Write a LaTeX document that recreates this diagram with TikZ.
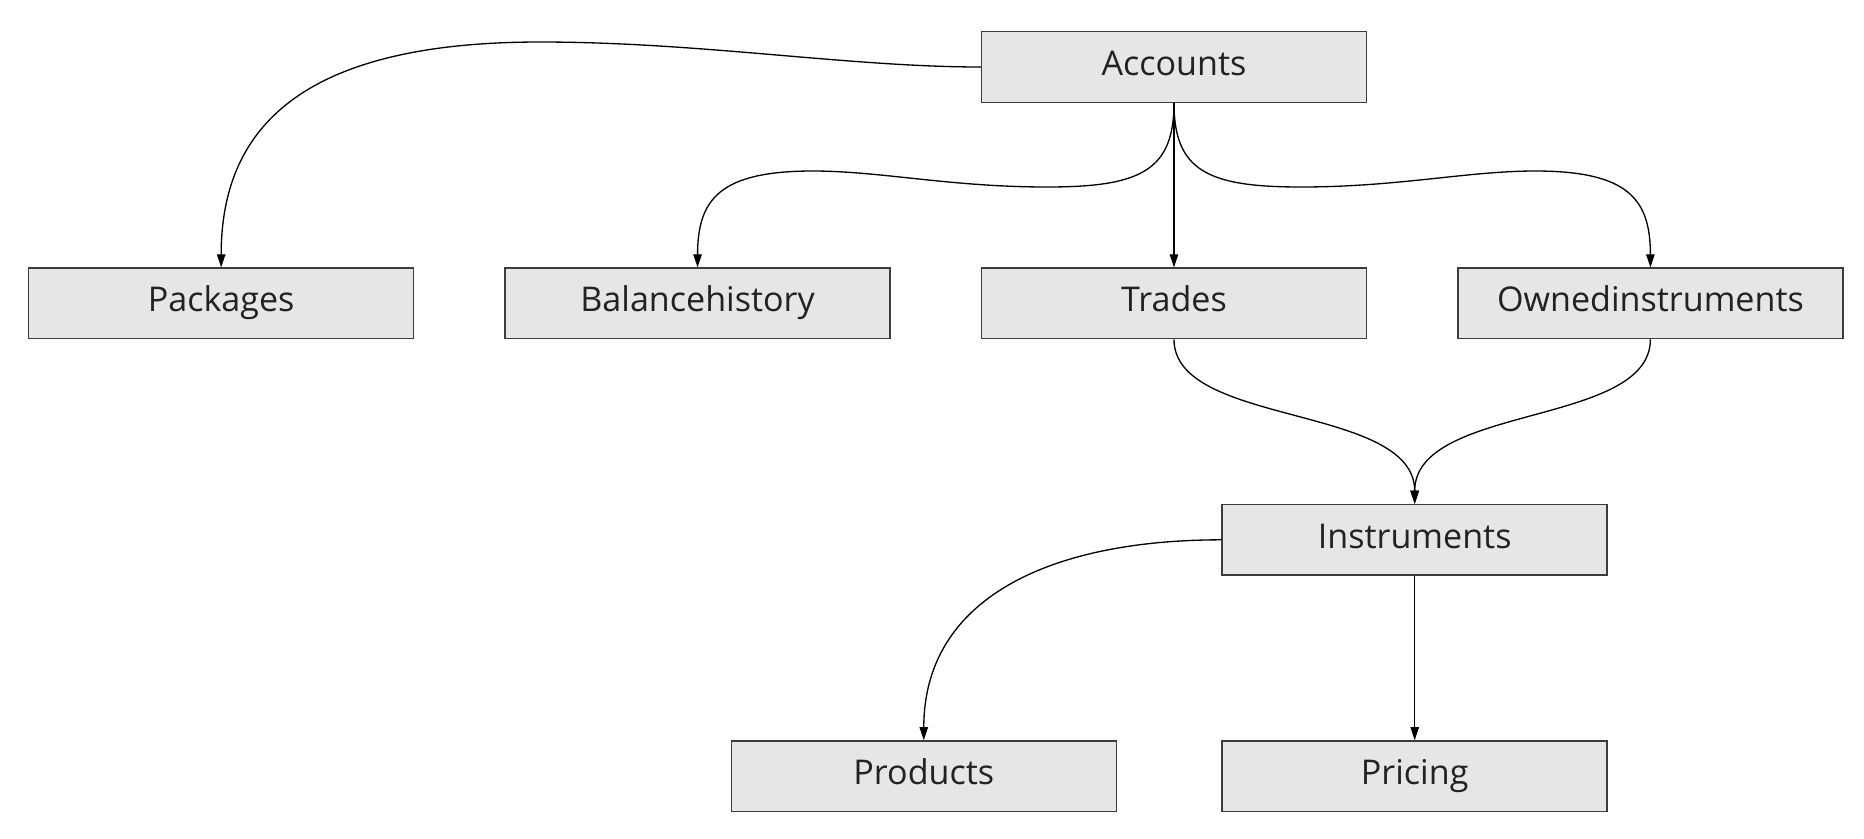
\documentclass[tikz,border=0pt]{standalone}
\usepackage{fontspec}
\setmainfont{Open Sans}
\usepackage{tikz}
\usetikzlibrary{positioning, arrows.meta, calc}
\definecolor{boxfill}{HTML}{E6E6E6}
\definecolor{boxline}{HTML}{3C3C3C}
\definecolor{boxtext}{HTML}{222222}
\tikzset{
    tbl/.style={draw=boxline, fill=boxfill, line width=0.8pt, text=boxtext,
        minimum width=7.7cm, minimum height=1.41cm, inner sep=0pt,
        text height=13.6pt, text depth=4.2pt,
        font=\fontsize{19.4}{23}\selectfont},
    link/.style={-{Triangle[length=7.5pt, width=4.8pt]}, line width=0.75pt},
}

\begin{document}
\begin{tikzpicture}
    \tikzset{
      node distance=3.29cm and 1.80cm
    }
    \useasboundingbox (-23.48,1.34) rectangle (13.8,-15.42);

    \node[tbl] (accounts) at (0,0) {Accounts};
    \node[tbl, below=of accounts] (trades) {Trades};
    \node[tbl, left=of trades] (balance) {Balancehistory};
    \node[tbl, left=of balance] (packages) {Packages};
    \node[tbl, right=of trades] (owned) {Ownedinstruments};

    \node[tbl, below=of $(trades.south)!0.5!(owned.south)$, xshift=0.05cm] (instruments) {Instruments};
    \node[tbl, below=of instruments] (pricing) {Pricing};
    \node[tbl, left=2.09cm of pricing] (products) {Products};

    % bends of the long curves
    \coordinate (pkbend) at (-12.68,0.5);
    \coordinate (bhlow) at (-2.54,-2.4);
    \coordinate (bhtop) at (-7.22,-2.08);
    \coordinate (oilow) at (2.54,-2.4);
    \coordinate (oitop) at (7.22,-2.08);

    \draw[link] (accounts.west) .. controls +(-2.64,0) and +(3.2,0) .. (pkbend)
        .. controls +(-4.8,0) and +(0,2.77) .. (packages.north);
    \draw[link] (accounts.south) .. controls +(0,-1.36) and +(1.86,0) .. (bhlow)
        .. controls +(-1.94,0) and +(1.34,0) .. (bhtop)
        .. controls +(-1.86,0) and +(0,1.37) .. (balance.north);
    \draw[link] (accounts.south) -- (trades.north);
    \draw[link] (accounts.south) .. controls +(0,-1.36) and +(-1.86,0) .. (oilow)
        .. controls +(1.94,0) and +(-1.34,0) .. (oitop)
        .. controls +(1.86,0) and +(0,1.37) .. (owned.north);

    \draw[link] (trades.south) .. controls +(0,-1.75) and +(0,2.0) .. (instruments.north);
    \draw[link] (owned.south) .. controls +(0,-1.75) and +(0,2.0) .. (instruments.north);

    \draw[link] (instruments.west) .. controls +(-3.44,0) and +(0,2.84) .. (products.north);
    \draw[link] (instruments.south) -- (pricing.north);
\end{tikzpicture}
\end{document}
